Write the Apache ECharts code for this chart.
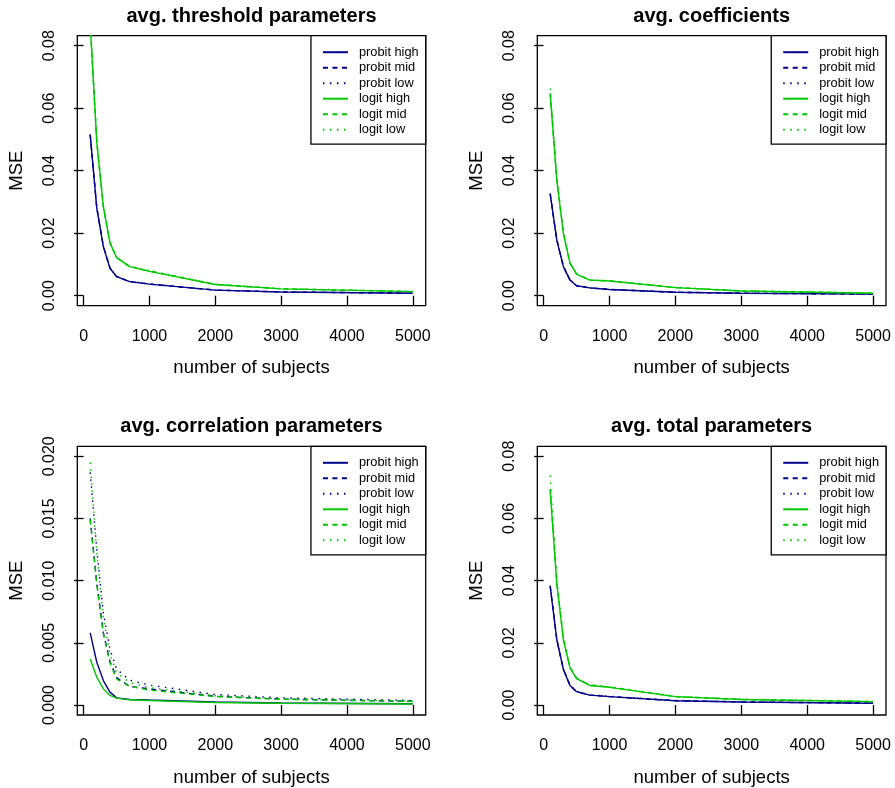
<!DOCTYPE html>
<html><head><meta charset="utf-8">
<script src="https://cdn.jsdelivr.net/npm/echarts@6/dist/echarts.min.js"></script>
<style>html,body{margin:0;padding:0;background:#fff}#c{width:895px;height:788px}</style>
</head><body><div id="c"></div>
<script>
// ---- data ----
const xValues = [100, 200, 300, 400, 500, 700, 1000, 2000, 3000, 5000];
const seriesNames = ['probit high', 'probit mid', 'probit low', 'logit high', 'logit mid', 'logit low'];
const panelTitles = ['avg. threshold parameters', 'avg. coefficients', 'avg. correlation parameters', 'avg. total parameters'];
const xTicks = [0, 1000, 2000, 3000, 4000, 5000];
const yTicksMain = [0, 0.02, 0.04, 0.06, 0.08];
const yTicksCorr = [0, 0.005, 0.010, 0.015, 0.020];

// avg. threshold parameters
const thrProbitHigh = [0.0514, 0.0280, 0.0157, 0.0088, 0.0061, 0.0045, 0.0037, 0.0018, 0.0012, 0.0008];
const thrProbitMid  = [0.0515, 0.0281, 0.0158, 0.0089, 0.0061, 0.0045, 0.0037, 0.0018, 0.0012, 0.0008];
const thrProbitLow  = [0.0516, 0.0282, 0.0158, 0.0089, 0.0062, 0.0046, 0.0038, 0.0018, 0.0012, 0.0008];
const thrLogitHigh  = [0.0870, 0.0490, 0.0284, 0.0169, 0.0122, 0.0093, 0.0078, 0.0036, 0.0022, 0.0013];
const thrLogitMid   = [0.0872, 0.0492, 0.0285, 0.0170, 0.0122, 0.0093, 0.0079, 0.0036, 0.0022, 0.0013];
const thrLogitLow   = [0.0880, 0.0498, 0.0287, 0.0171, 0.0123, 0.0094, 0.0080, 0.0037, 0.0023, 0.0014];

// avg. coefficients
const coefProbitHigh = [0.0325, 0.0178, 0.0093, 0.0050, 0.0032, 0.0025, 0.0020, 0.0011, 0.0008, 0.0005];
const coefProbitMid  = [0.0326, 0.0179, 0.0093, 0.0050, 0.0032, 0.0025, 0.0020, 0.0011, 0.0008, 0.0005];
const coefProbitLow  = [0.0327, 0.0179, 0.0094, 0.0051, 0.0033, 0.0025, 0.0020, 0.0011, 0.0008, 0.0005];
const coefLogitHigh  = [0.0643, 0.0370, 0.0199, 0.0104, 0.0069, 0.0050, 0.0047, 0.0026, 0.0015, 0.0008];
const coefLogitMid   = [0.0648, 0.0372, 0.0200, 0.0105, 0.0069, 0.0050, 0.0047, 0.0026, 0.0015, 0.0008];
const coefLogitLow   = [0.0663, 0.0380, 0.0202, 0.0106, 0.0070, 0.0051, 0.0048, 0.0027, 0.0016, 0.0009];

// avg. correlation parameters
const corProbitHigh = [0.00580, 0.00344, 0.00197, 0.00104, 0.00058, 0.00045, 0.00040, 0.00024, 0.00017, 0.00010];
const corProbitMid  = [0.01500, 0.00980, 0.00580, 0.00350, 0.00220, 0.00150, 0.00130, 0.00070, 0.00048, 0.00030];
const corProbitLow  = [0.01870, 0.01250, 0.00740, 0.00450, 0.00290, 0.00200, 0.00160, 0.00085, 0.00058, 0.00037];
const corLogitHigh  = [0.00370, 0.00224, 0.00130, 0.00077, 0.00056, 0.00042, 0.00036, 0.00020, 0.00014, 0.00008];
const corLogitMid   = [0.01490, 0.00970, 0.00570, 0.00340, 0.00210, 0.00150, 0.00120, 0.00068, 0.00046, 0.00029];
const corLogitLow   = [0.01950, 0.01220, 0.00700, 0.00410, 0.00260, 0.00180, 0.00140, 0.00075, 0.00050, 0.00032];

// avg. total parameters
const totProbitHigh = [0.0381, 0.0210, 0.0114, 0.0063, 0.0043, 0.0032, 0.0027, 0.0014, 0.0010, 0.0006];
const totProbitMid  = [0.0382, 0.0211, 0.0115, 0.0063, 0.0043, 0.0032, 0.0027, 0.0014, 0.0010, 0.0006];
const totProbitLow  = [0.0384, 0.0212, 0.0116, 0.0064, 0.0044, 0.0033, 0.0028, 0.0015, 0.0010, 0.0006];
const totLogitHigh  = [0.0687, 0.0390, 0.0210, 0.0120, 0.0085, 0.0063, 0.0057, 0.0027, 0.0018, 0.0011];
const totLogitMid   = [0.0695, 0.0393, 0.0212, 0.0121, 0.0086, 0.0064, 0.0058, 0.0027, 0.0018, 0.0011];
const totLogitLow   = [0.0738, 0.0405, 0.0216, 0.0123, 0.0087, 0.0065, 0.0059, 0.0028, 0.0019, 0.0012];

const panelData = [
  [thrProbitHigh, thrProbitMid, thrProbitLow, thrLogitHigh, thrLogitMid, thrLogitLow],
  [coefProbitHigh, coefProbitMid, coefProbitLow, coefLogitHigh, coefLogitMid, coefLogitLow],
  [corProbitHigh, corProbitMid, corProbitLow, corLogitHigh, corLogitMid, corLogitLow],
  [totProbitHigh, totProbitMid, totProbitLow, totLogitHigh, totLogitMid, totLogitLow]
];

// ---- layout / style ----
const FONT = 'Liberation Sans, Arial, Helvetica, sans-serif';
const W = 895;
const grids = [
  {left: 77.3, top: 35.7, width: 348.4, height: 270},
  {left: 537.3, top: 35.7, width: 348.7, height: 270},
  {left: 77.3, top: 446.3, width: 348.4, height: 270},
  {left: 537.3, top: 446.3, width: 348.7, height: 270}
];
const probitColor = '#00008B';
const logitColor = '#00C800';
const styles = [
  {color: probitColor, type: 'solid'},
  {color: probitColor, type: [5, 4.5]},
  {color: probitColor, type: [1.5, 5.5]},
  {color: logitColor, type: 'solid'},
  {color: logitColor, type: [5, 4.5]},
  {color: logitColor, type: [1.5, 5.5]}
];

const option = {
  animation: false,
  backgroundColor: '#fff',
  textStyle: {fontFamily: FONT},
  title: [], grid: [], xAxis: [], yAxis: [], legend: [], series: []
};

grids.forEach((g, i) => {
  const isCorr = i === 2;
  const yTicks = isCorr ? yTicksCorr : yTicksMain;
  const yMax = yTicks[yTicks.length - 1];
  const ext = yMax * 0.04;
  option.grid.push({left: g.left, top: g.top, width: g.width, height: g.height,
    show: true, borderColor: '#000', borderWidth: 1.3, backgroundColor: 'transparent'});
  option.title.push({
    text: panelTitles[i], left: g.left + g.width / 2, top: g.top - 29.5, textAlign: 'center', padding: 0,
    textStyle: {fontFamily: FONT, fontSize: 20, fontWeight: 'bold', color: '#000'}
  });
  option.xAxis.push({
    type: 'value', gridIndex: i, min: -96, max: 5196,
    name: 'number of subjects', nameLocation: 'middle', nameGap: 53,
    nameTextStyle: {fontFamily: FONT, fontSize: 18.5, color: '#000'},
    axisLine: {show: false},
    axisTick: {show: true, inside: false, length: 9.5, customValues: xTicks, lineStyle: {color: '#000', width: 1.3}},
    axisLabel: {show: true, customValues: xTicks, margin: 23, fontFamily: FONT, fontSize: 16, color: '#000',
      formatter: v => String(Math.round(v))},
    splitLine: {show: false}
  });
  option.yAxis.push({
    type: 'value', gridIndex: i, min: -ext, max: yMax + ext,
    name: 'MSE', nameLocation: 'middle', nameGap: 51,
    nameTextStyle: {fontFamily: FONT, fontSize: 18.5, color: '#000'},
    axisLine: {show: false},
    axisTick: {show: true, inside: false, length: 9.5, customValues: yTicks, lineStyle: {color: '#000', width: 1.3}},
    axisLabel: {show: true, customValues: yTicks, rotate: 90, margin: 20, fontFamily: FONT, fontSize: 16, color: '#000',
      formatter: v => v.toFixed(isCorr ? 3 : 2)},
    splitLine: {show: false}
  });
  option.legend.push({
    orient: 'vertical', right: W - (g.left + g.width), top: g.top,
    data: seriesNames, selectedMode: false,
    backgroundColor: '#fff', borderColor: '#000', borderWidth: 1.3,
    padding: [10, 7, 8, 11], itemWidth: 25, itemHeight: 14, itemGap: 2.5,
    itemStyle: {opacity: 0, borderWidth: 0},
    textStyle: {fontFamily: FONT, fontSize: 12.8, color: '#000', padding: [0, 0, 0, 6]}
  });
  panelData[i].forEach((vals, k) => {
    option.series.push({
      type: 'line', name: seriesNames[k], xAxisIndex: i, yAxisIndex: i,
      data: xValues.map((x, j) => [x, vals[j]]),
      symbol: 'none', clip: true, smooth: false,
      lineStyle: {color: styles[k].color, width: 1.4, type: styles[k].type},
      itemStyle: {color: styles[k].color}
    });
  });
});

const chart = echarts.init(document.getElementById('c'), null, {renderer: 'canvas'});
chart.setOption(option);
</script></body></html>
